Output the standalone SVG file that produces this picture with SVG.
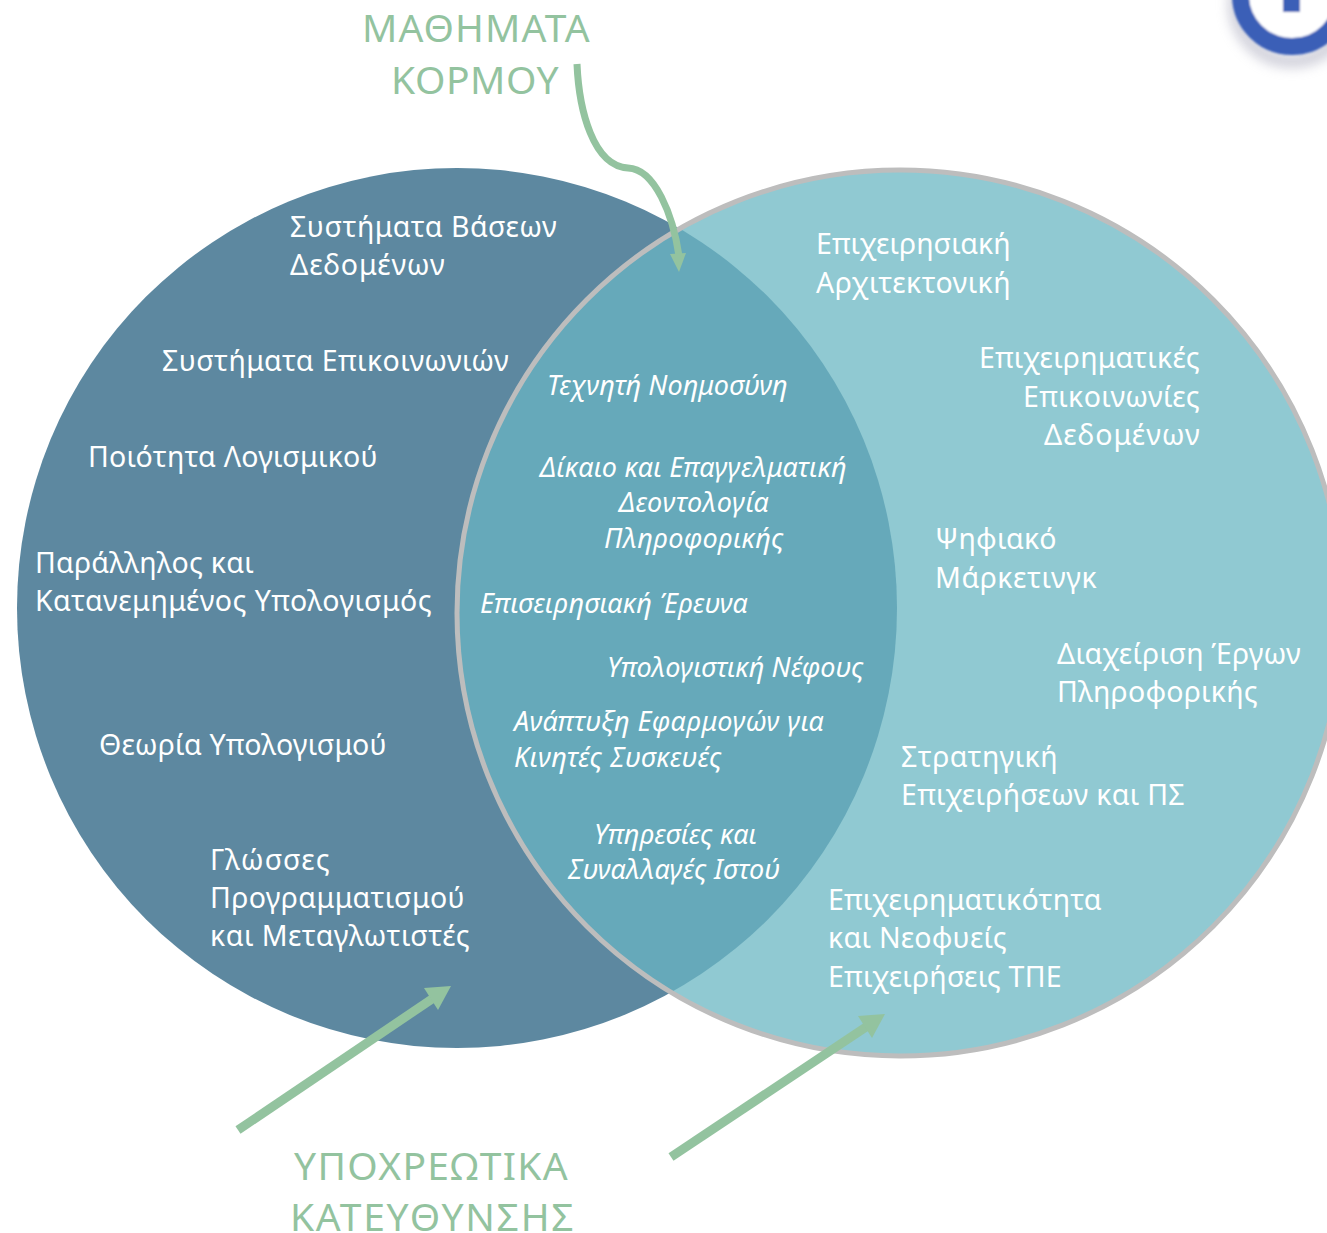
<svg xmlns="http://www.w3.org/2000/svg" width="1327" height="1233" viewBox="0 0 1327 1233">
<style>
text{font-family:"Noto Sans","Open Sans","Liberation Sans",sans-serif;fill:#fff;font-size:28.5px;letter-spacing:.4px}
.i{font-style:italic;font-size:27px;letter-spacing:.25px}
.h{fill:#93c39f;font-size:39px;letter-spacing:1.4px}
.c{fill:none;stroke:#93c39f}
.a{fill:#93c39f}
</style>
<defs>
<filter id="b" x="-30%" y="-30%" width="160%" height="160%"><feGaussianBlur stdDeviation="6"/></filter>
<filter id="s" x="-10%" y="-10%" width="120%" height="120%"><feGaussianBlur stdDeviation="1"/></filter>
<clipPath id="lens"><circle cx="900" cy="613" r="443"/></clipPath>
</defs>
<rect width="1327" height="1233" fill="#fff"/>
<g id="icon">
<circle cx="1292" cy="4" r="57" fill="none" stroke="#a4a4b8" stroke-width="14" opacity=".5" filter="url(#b)"/>
<g filter="url(#s)">
<circle cx="1292" cy="-5" r="51.500" fill="#fff" stroke="#3a5fb7" stroke-width="17"/>
<rect x="1283" y="-5" width="17" height="17" fill="#3a5fb7"/>
</g>
</g>
<g id="left-circle"><circle cx="457" cy="608" r="440" fill="#5d88a0"/></g>
<g id="right-circle"><circle cx="900" cy="613" r="443" fill="#90c9d2"/></g>
<g id="overlap"><circle cx="457" cy="608" r="440" fill="#66a9ba" clip-path="url(#lens)"/></g>
<circle cx="900" cy="613" r="443" fill="none" stroke="#bdbdbd" stroke-width="5"/>
<g id="connectors">
<path class="c" stroke-width="7" d="M577 64C579 110 593 166 628 168C655 169 673 215 679 256"/>
<path class="a" d="M670 254L686 253L679 272Z"/>
<path class="c" stroke-width="9" d="M238 1130L432 999"/>
<path class="a" d="M424 988L451 986L438 1010Z"/>
<path class="c" stroke-width="9" d="M671 1157L866 1027"/>
<path class="a" d="M858 1016L885 1014L872 1038Z"/>
</g>
<g id="label-core"><text class="h" x="362" y="42" textLength="229">ΜΑΘΗΜΑΤΑ</text><text class="h" x="391" y="94" textLength="169">ΚΟΡΜΟΥ</text></g>
<g id="label-majors"><text class="h" x="294" y="1180" textLength="275">ΥΠΟΧΡΕΩΤΙΚΑ</text><text class="h" x="290" y="1231" textLength="285">ΚΑΤΕΥΘΥΝΣΗΣ</text></g>
<g id="left-texts">
<text x="290" y="237" textLength="267">Συστήματα Βάσεων</text><text x="290" y="275" textLength="155">Δεδομένων</text>
<text x="162" y="371" textLength="347">Συστήματα Επικοινωνιών</text>
<text x="88" y="467" textLength="290">Ποιότητα Λογισμικού</text>
<text x="35" y="573" textLength="219">Παράλληλος και</text><text x="35" y="611" textLength="397">Κατανεμημένος Υπολογισμός</text>
<text x="99" y="755" textLength="288">Θεωρία Υπολογισμού</text>
<text x="210" y="870" textLength="120">Γλώσσες</text><text x="210" y="908" textLength="255">Προγραμματισμού</text><text x="210" y="946" textLength="260">και Μεταγλωτιστές</text>
</g>
<g id="center-texts">
<text class="i" x="547" y="395" textLength="241">Τεχνητή Νοημοσύνη</text>
<text class="i" x="540" y="477" textLength="307">Δίκαιο και Επαγγελματική</text><text class="i" x="619" y="512" textLength="150">Δεοντολογία</text><text class="i" x="604" y="548" textLength="180">Πληροφορικής</text>
<text class="i" x="480" y="613" textLength="268">Επισειρησιακή Έρευνα</text>
<text class="i" x="607" y="677" textLength="257">Υπολογιστική Νέφους</text>
<text class="i" x="514" y="731" textLength="310">Ανάπτυξη Εφαρμογών για</text><text class="i" x="514" y="767" textLength="208">Κινητές Συσκευές</text>
<text class="i" x="594" y="844" textLength="163">Υπηρεσίες και</text><text class="i" x="568" y="879" textLength="212">Συναλλαγές Ιστού</text>
</g>
<g id="right-texts">
<text x="816" y="254" textLength="195">Επιχειρησιακή</text><text x="816" y="293" textLength="195">Αρχιτεκτονική</text>
<text x="979" y="368" textLength="221">Επιχειρηματικές</text><text x="1023" y="407" textLength="177">Επικοινωνίες</text><text x="1044" y="445" textLength="156">Δεδομένων</text>
<text x="935" y="549" textLength="122">Ψηφιακό</text><text x="935" y="588" textLength="162">Μάρκετινγκ</text>
<text x="1057" y="664" textLength="244">Διαχείριση Έργων</text><text x="1057" y="702" textLength="201">Πληροφορικής</text>
<text x="901" y="767" textLength="157">Στρατηγική</text><text x="901" y="805" textLength="284">Επιχειρήσεων και ΠΣ</text>
<text x="828" y="910" textLength="274">Επιχειρηματικότητα</text><text x="828" y="948" textLength="179">και Νεοφυείς</text><text x="828" y="987" textLength="234">Επιχειρήσεις ΤΠΕ</text>
</g>
</svg>
